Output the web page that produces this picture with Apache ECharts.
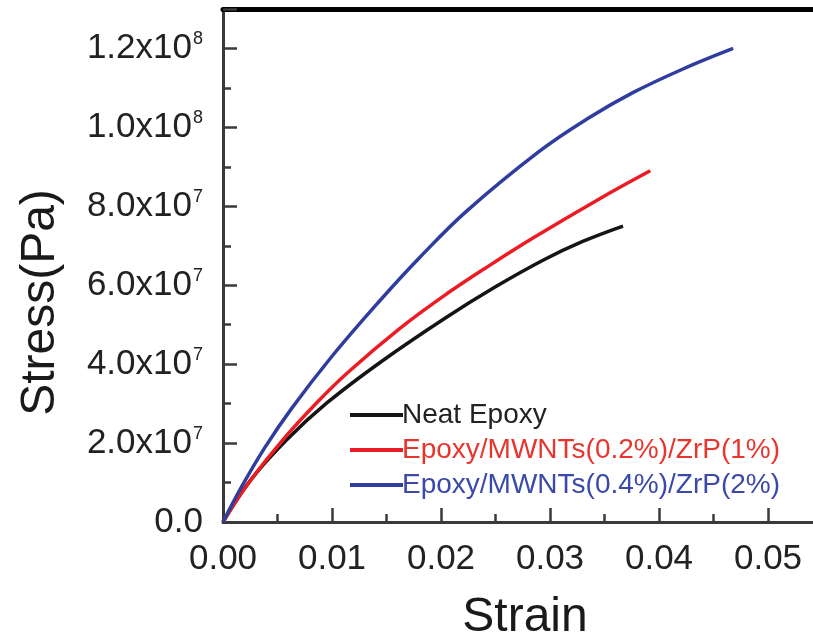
<!DOCTYPE html>
<html>
<head>
<meta charset="utf-8">
<script src="https://cdn.jsdelivr.net/npm/echarts@6/dist/echarts.min.js"></script>
<style>
  html, body { margin: 0; padding: 0; background: #fff; }
  #chart { width: 813px; height: 642px; }
</style>
</head>
<body>
<div id="chart"></div>
<script>
// strain / stress (Pa)
const neatEpoxy = [
  [0, 0], [0.0025, 1.05e7], [0.0058, 2.07e7], [0.0095, 3.01e7], [0.0146, 4.08e7],
  [0.0204, 5.17e7], [0.0250, 5.96e7], [0.0294, 6.64e7], [0.0330, 7.11e7],
  [0.0367, 7.50e7]
];
const mwnt02 = [
  [0, 0], [0.0023, 0.97e7], [0.0054, 2.05e7], [0.0086, 3.02e7], [0.0115, 3.80e7],
  [0.0162, 4.90e7], [0.0201, 5.70e7], [0.0245, 6.51e7], [0.0284, 7.19e7],
  [0.0346, 8.20e7], [0.0392, 8.90e7]
];
const mwnt04 = [
  [0, 0], [0.0017, 0.89e7], [0.00385, 1.89e7], [0.0063, 2.88e7], [0.0100, 4.20e7],
  [0.0142, 5.55e7], [0.0180, 6.69e7], [0.0224, 7.89e7], [0.0291, 9.41e7],
  [0.0335, 1.023e8], [0.0376, 1.088e8], [0.0422, 1.148e8], [0.0468, 1.20e8]
];
const seriesNames = ['Neat Epoxy', 'Epoxy/MWNTs(0.2%)/ZrP(1%)', 'Epoxy/MWNTs(0.4%)/ZrP(2%)'];
const lineColors = ['#151515', '#ec1c24', '#2e3d9e'];
const legendColors = ['#222222', '#e8352e', '#3b4aa8'];

const font = "'Liberation Sans', Arial, sans-serif";
const axisColor = '#3a3a3a';

function stressLabel(v) {
  if (v === 0) return '{a|0.0}';
  if (Math.abs(v % 2e7) > 1) return '';
  if (v >= 1e8) return '{a|' + (v / 1e8).toFixed(1) + 'x10}{s|8}';
  return '{a|' + (v / 1e7).toFixed(1) + 'x10}{s|7}';
}

const chart = echarts.init(document.getElementById('chart'));
chart.setOption({
  animation: false,
  grid: { left: 223, width: 654, top: 9, bottom: 120, outerBoundsMode: 'none', containLabel: false },
  legend: {
    orient: 'vertical',
    left: 345,
    top: 396,
    icon: 'rect',
    itemWidth: 53,
    itemHeight: 4,
    itemGap: 7,
    textStyle: { fontFamily: font, fontSize: 28, padding: [0, 0, 0, -6] },
    data: seriesNames.map((n, i) => ({ name: n, textStyle: { color: legendColors[i] } }))
  },
  xAxis: [
    {
      type: 'value',
      min: 0,
      max: 0.06,
      interval: 0.01,
      name: 'Strain',
      nameLocation: 'middle',
      nameGap: 72,
      nameTextStyle: { fontFamily: font, fontSize: 48, color: '#1a1a1a', padding: [0, 50, 0, 0] },
      axisLine: { onZero: false, lineStyle: { color: axisColor, width: 3 } },
      axisTick: { inside: true, length: 14, lineStyle: { color: axisColor, width: 2.5 } },
      minorTick: { show: true, splitNumber: 2, length: 8, lineStyle: { color: axisColor, width: 2.5 } },
      axisLabel: { fontFamily: font, fontSize: 35, color: '#222', margin: 20, formatter: v => v.toFixed(2) },
      splitLine: { show: false }
    },
    {
      type: 'value',
      position: 'top',
      min: 0,
      max: 0.06,
      axisLine: { show: true, onZero: false, lineStyle: { color: '#000', width: 5 } },
      axisTick: { show: false },
      axisLabel: { show: false },
      splitLine: { show: false }
    }
  ],
  yAxis: [
    {
      type: 'value',
      min: 0,
      max: 1.3e8,
      interval: 2e7,
      name: 'Stress(Pa)',
      nameLocation: 'middle',
      nameGap: 158,
      nameTextStyle: { fontFamily: font, fontSize: 48, color: '#1a1a1a', padding: [0, 74, 0, 0] },
      axisLine: { show: true, onZero: false, lineStyle: { color: axisColor, width: 3 } },
      axisTick: { inside: true, length: 14, lineStyle: { color: axisColor, width: 2.5 } },
      axisLabel: {
        margin: 20,
        formatter: stressLabel,
        rich: {
          a: { fontFamily: font, fontSize: 35, color: '#222' },
          s: { fontFamily: font, fontSize: 18, color: '#222', padding: [0, 0, 18, 1] }
        }
      },
      splitLine: { show: false }
    },
    {
      type: 'value',
      position: 'left',
      min: 0,
      max: 1.3e8,
      interval: 1e7,
      axisLine: { show: false, onZero: false },
      axisTick: { inside: true, length: 8, lineStyle: { color: axisColor, width: 2.5 } },
      axisLabel: { show: false },
      splitLine: { show: false }
    }
  ],
  series: [neatEpoxy, mwnt02, mwnt04].map((d, i) => ({
    name: seriesNames[i],
    type: 'line',
    data: d,
    smooth: 0.4,
    symbol: 'none',
    color: lineColors[i],
    lineStyle: { width: 3.5, color: lineColors[i] }
  }))
});
</script>
</body>
</html>
